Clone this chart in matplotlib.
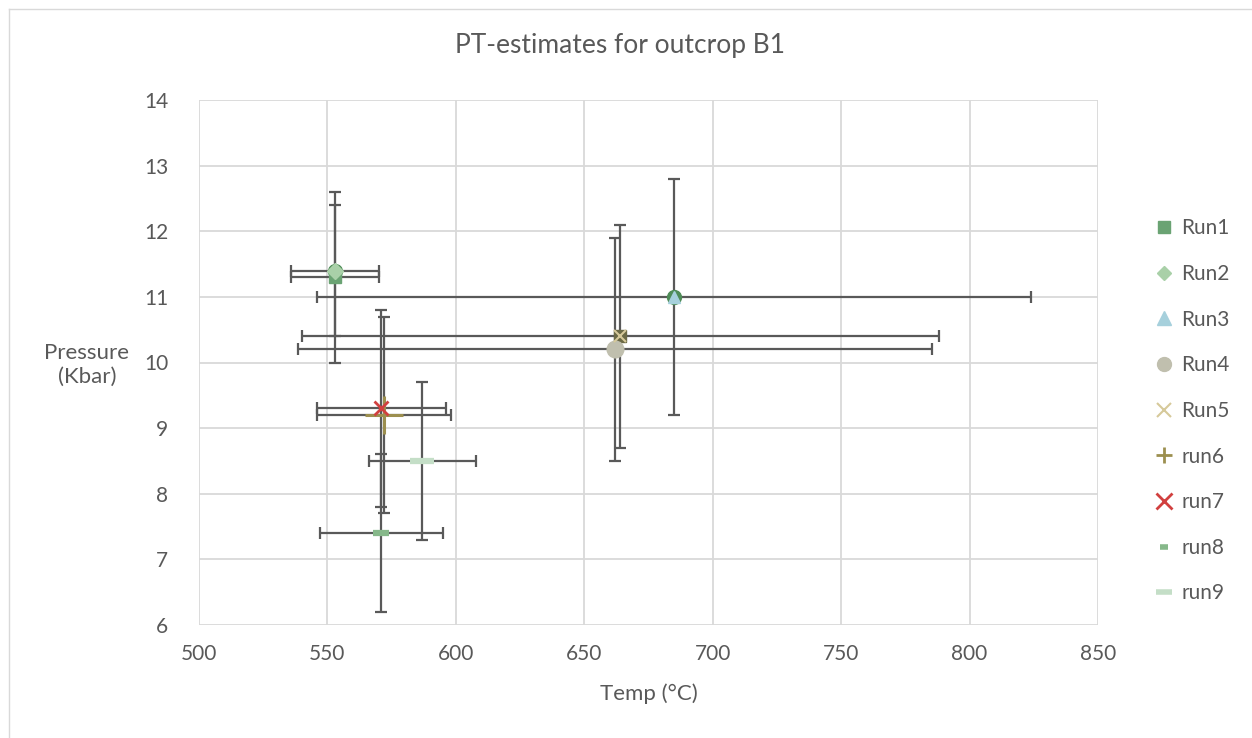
import matplotlib.pyplot as plt
from matplotlib.lines import Line2D
import numpy as np

plt.rcParams['font.family'] = ['Lato', 'DejaVu Sans']

runs = ['Run1', 'Run2', 'Run3', 'Run4', 'Run5', 'run6', 'run7', 'run8', 'run9']
temp = [553, 553, 685, 662, 664, 572, 571, 571, 587]
pres = [11.3, 11.4, 11.0, 10.2, 10.4, 9.2, 9.3, 7.4, 8.5]
temp_err = [17, 17, 139, 123.5, 124, 26, 25, 24, 21]
pres_err = [1.3, 1.0, 1.8, 1.7, 1.7, 1.5, 1.5, 1.2, 1.2]

colors = ['#6aa373', '#a9d0a8', '#a6d0dc', '#c0bfae', '#d6c99a',
          '#9c8f4f', '#d1403f', '#86b88a', '#c4dec7']
markers = ['s', 'D', '^', 'o', 'x', '+', 'x', '_', '_']
sizes = [8, 8, 9, 12, 9, 27, 10, 11, 17]
edge_w = [1, 1, 1, 1, 1.5, 2.2, 2, 4.5, 4.5]
legend_sizes = [9, 7, 10, 10, 10, 11, 11, 6, 12]
legend_ew = [1, 1, 1, 1, 1.5, 2, 2, 4, 4]

# darker back markers that show behind some points
back_t = [553, 685, 664]
back_p = [11.4, 11.0, 10.4]
back_c = ['#4e8c57', '#4e8c57', '#6b6945']
back_m = ['o', 'o', 's']
back_s = [10, 10, 8]

grey = '#595959'

fig = plt.figure(figsize=(12.52, 7.38), dpi=100)
ax = fig.add_axes([199/1252, 1 - 625/738, (1098 - 199)/1252, (625 - 100)/738])

for i in range(len(runs)):
    ax.errorbar(temp[i], pres[i], xerr=temp_err[i], yerr=pres_err[i],
                fmt='none', ecolor=grey, elinewidth=1.6, capsize=4.5,
                capthick=1.6, zorder=3)

for t, p, c, m, s in zip(back_t, back_p, back_c, back_m, back_s):
    ax.plot(t, p, marker=m, color=c, markersize=s, linestyle='none', zorder=4)

for i in range(len(runs)):
    ax.plot(temp[i], pres[i], marker=markers[i], color=colors[i],
            markersize=sizes[i], markeredgewidth=edge_w[i],
            linestyle='none', zorder=5)

ax.set_xlim(500, 850)
ax.set_ylim(6, 14)
ax.set_xticks(np.arange(500, 851, 50))
ax.set_yticks(np.arange(6, 15, 1))
ax.grid(True, color='#d9d9d9', linewidth=1.3, zorder=0)
ax.set_axisbelow(True)
for s in ax.spines.values():
    s.set_visible(False)
ax.tick_params(length=0, labelsize=15, labelcolor=grey)
ax.tick_params(axis='x', pad=14)
ax.tick_params(axis='y', pad=22)

ax.set_xlabel('Temp (°C)', fontsize=16, color=grey, labelpad=14)
fig.text(87/1252, 1 - 365/738, 'Pressure\n(Kbar)', fontsize=16, color=grey,
         ha='center', va='center', linespacing=1.25)
fig.text(620/1252, 1 - 45/738, 'PT-estimates for outcrop B1', fontsize=19,
         color=grey, ha='center', va='center')

handles = [Line2D([], [], marker=markers[i], color=colors[i], linestyle='none',
                  markersize=legend_sizes[i], markeredgewidth=legend_ew[i])
           for i in range(len(runs))]
fig.legend(handles, runs, loc='upper left',
           bbox_to_anchor=(1143/1252, 1 - 208/738), frameon=False,
           fontsize=15, labelcolor=grey, labelspacing=1.23,
           handlelength=1.0, handletextpad=0.35, borderpad=0)

# chart frame
fig.add_artist(Line2D([9/1252, 9/1252], [0, 1 - 9/738], color='#d9d9d9', lw=1))
fig.add_artist(Line2D([9/1252, 1], [1 - 9/738, 1 - 9/738], color='#d9d9d9', lw=1))

fig.savefig('out.png', dpi=100)
